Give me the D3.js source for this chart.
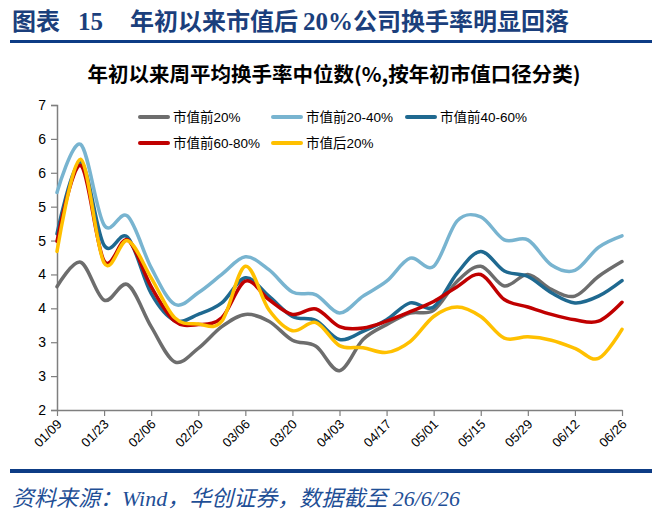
<!DOCTYPE html>
<html><head><meta charset="utf-8">
<script src="https://cdn.jsdelivr.net/npm/d3@7/dist/d3.min.js"></script>
<style>
html,body{margin:0;padding:0;background:#fff;}
svg{display:block;}
</style></head>
<body>
<svg id="chart" width="660" height="516"></svg>
<script>
const dates = ["01/09","01/16","01/23","01/30","02/06","02/13","02/20","02/27","03/06","03/13","03/20","03/27","04/03","04/10","04/17","04/24","05/01","05/08","05/15","05/22","05/29","06/05","06/12","06/19","06/26"];
const tickDates = ["01/09","01/23","02/06","02/20","03/06","03/20","04/03","04/17","05/01","05/15","05/29","06/12","06/26"];
const yTickValues = [2,2.5,3,3.5,4,4.5,5,5.5,6,6.5];
const yTickLabels = ["2","3","3","4","4","5","5","6","6","7"];
const seriesNames = ["市值前20%","市值前20-40%","市值前40-60%","市值前60-80%","市值后20%"];
const seriesColors = ["#6d6d6d","#78b4d0","#1f6990","#c00000","#ffc000"];
const top20 =   [3.82,4.18,3.62,3.85,3.23,2.71,2.91,3.23,3.41,3.31,3.03,2.94,2.58,3.04,3.26,3.43,3.47,3.90,4.12,3.83,4.00,3.78,3.68,3.97,4.19];
const top20_40 =[5.21,5.92,4.73,4.86,4.10,3.56,3.73,4.00,4.26,4.07,3.74,3.70,3.43,3.68,3.90,4.24,4.12,4.79,4.85,4.51,4.51,4.14,4.06,4.40,4.57];
const top40_60 =[4.60,5.66,4.43,4.55,3.72,3.32,3.41,3.58,3.95,3.68,3.38,3.32,3.04,3.16,3.33,3.58,3.52,4.02,4.34,4.05,3.97,3.73,3.58,3.68,3.91];
const top60_80 =[4.49,5.61,4.20,4.51,3.82,3.31,3.26,3.36,3.90,3.63,3.41,3.49,3.23,3.21,3.31,3.45,3.60,3.82,4.00,3.63,3.52,3.41,3.33,3.31,3.59];
const bottom20 =[4.34,5.70,4.17,4.50,3.95,3.36,3.27,3.31,4.12,3.48,3.17,3.29,2.95,2.92,2.85,3.01,3.38,3.52,3.38,3.06,3.08,3.03,2.91,2.76,3.19];
const allSeries = [top20, top20_40, top40_60, top60_80, bottom20];

const svg = d3.select("#chart");
const navy = "#1b3f7c";

// Title
const title = svg.append("text").attr("y", 30).attr("fill", navy).attr("font-weight", "bold");
title.append("tspan").attr("x", 12).attr("font-family", "'Noto Sans CJK SC'").attr("font-size", 24).text("图表");
title.append("tspan").attr("x", 78).attr("font-family", "'Liberation Serif'").attr("font-size", 25).text("15");
title.append("tspan").attr("x", 130).attr("font-family", "'Noto Sans CJK SC'").attr("font-size", 24).text("年初以来市值后");
title.append("tspan").attr("dx", 5).attr("font-family", "'Liberation Serif'").attr("font-size", 25).text("20%");
title.append("tspan").attr("font-family", "'Noto Sans CJK SC'").attr("font-size", 24).text("公司换手率明显回落");

svg.append("rect").attr("x", 10).attr("y", 40).attr("width", 642).attr("height", 3).attr("fill", "#0d3c85");

// Subtitle
svg.append("text").attr("x", 334).attr("y", 82).attr("text-anchor", "middle")
  .attr("font-family", "'Noto Sans CJK SC'").attr("font-weight", "bold").attr("font-size", 20.5)
  .attr("fill", "#000").text("年初以来周平均换手率中位数(%,按年初市值口径分类)");

// Scales
const x = d3.scaleLinear().domain([0, dates.length - 1]).range([57, 622]);
const y = d3.scaleLinear().domain([2, 6.5]).range([410, 105]);
const axisColor = "#7f7f7f";

// Y axis
const yAxis = svg.append("g").attr("transform", "translate(57,0)")
  .call(d3.axisLeft(y).tickValues(yTickValues).tickSize(6).tickPadding(5)
    .tickFormat((d, i) => yTickLabels[i]));
yAxis.select(".domain").attr("stroke", axisColor).attr("stroke-width", 1.5);
yAxis.selectAll(".tick line").attr("stroke", axisColor).attr("stroke-width", 1.2);
yAxis.selectAll(".tick text").attr("font-family", "'Liberation Sans', Arial").attr("font-size", 14).attr("fill", "#000");

// X axis
const xAxis = svg.append("g").attr("transform", "translate(0,410)")
  .call(d3.axisBottom(x).tickValues(tickDates.map(d => dates.indexOf(d))).tickSize(6).tickSizeOuter(0)
    .tickFormat(i => dates[i]));
xAxis.select(".domain").attr("stroke", axisColor).attr("stroke-width", 1.5);
xAxis.selectAll(".tick line").attr("stroke", axisColor).attr("stroke-width", 1.2);
xAxis.selectAll(".tick text")
  .attr("font-family", "'Liberation Sans', Arial").attr("font-size", 13).attr("fill", "#000")
  .attr("text-anchor", "end").attr("dy", null).attr("y", null)
  .attr("transform", "translate(5,15) rotate(-45)");

// Lines
const line = d3.line().x((d, i) => x(i)).y(d => y(d)).curve(d3.curveCardinal.tension(0));
allSeries.forEach((s, k) => {
  svg.append("path").datum(s).attr("d", line).attr("fill", "none")
    .attr("stroke", seriesColors[k]).attr("stroke-width", 3.5).attr("stroke-linecap", "round");
});

// Legend
const legendPos = [[140,117],[273,117],[407,117],[140,143],[273,143]];
seriesNames.forEach((n, k) => {
  const [lx, ly] = legendPos[k];
  svg.append("line").attr("x1", lx).attr("x2", lx + 28).attr("y1", ly).attr("y2", ly)
    .attr("stroke", seriesColors[k]).attr("stroke-width", 4).attr("stroke-linecap", "round");
  svg.append("text").attr("x", lx + 33).attr("y", ly + 5)
    .attr("font-family", "'Liberation Sans', 'Noto Sans CJK SC'").attr("font-size", 13.5).attr("fill", "#000")
    .text(n);
});

// Bottom rule + source
svg.append("rect").attr("x", 10).attr("y", 469).attr("width", 642).attr("height", 4).attr("fill", "#0d3c85");
svg.append("text").attr("x", 12).attr("y", 506).attr("font-style", "italic")
  .attr("font-family", "'Liberation Serif', 'Noto Sans CJK SC'").attr("font-size", 22).attr("fill", "#1f4f96")
  .text("资料来源：Wind，华创证券，数据截至 26/6/26");
</script>
</body></html>
